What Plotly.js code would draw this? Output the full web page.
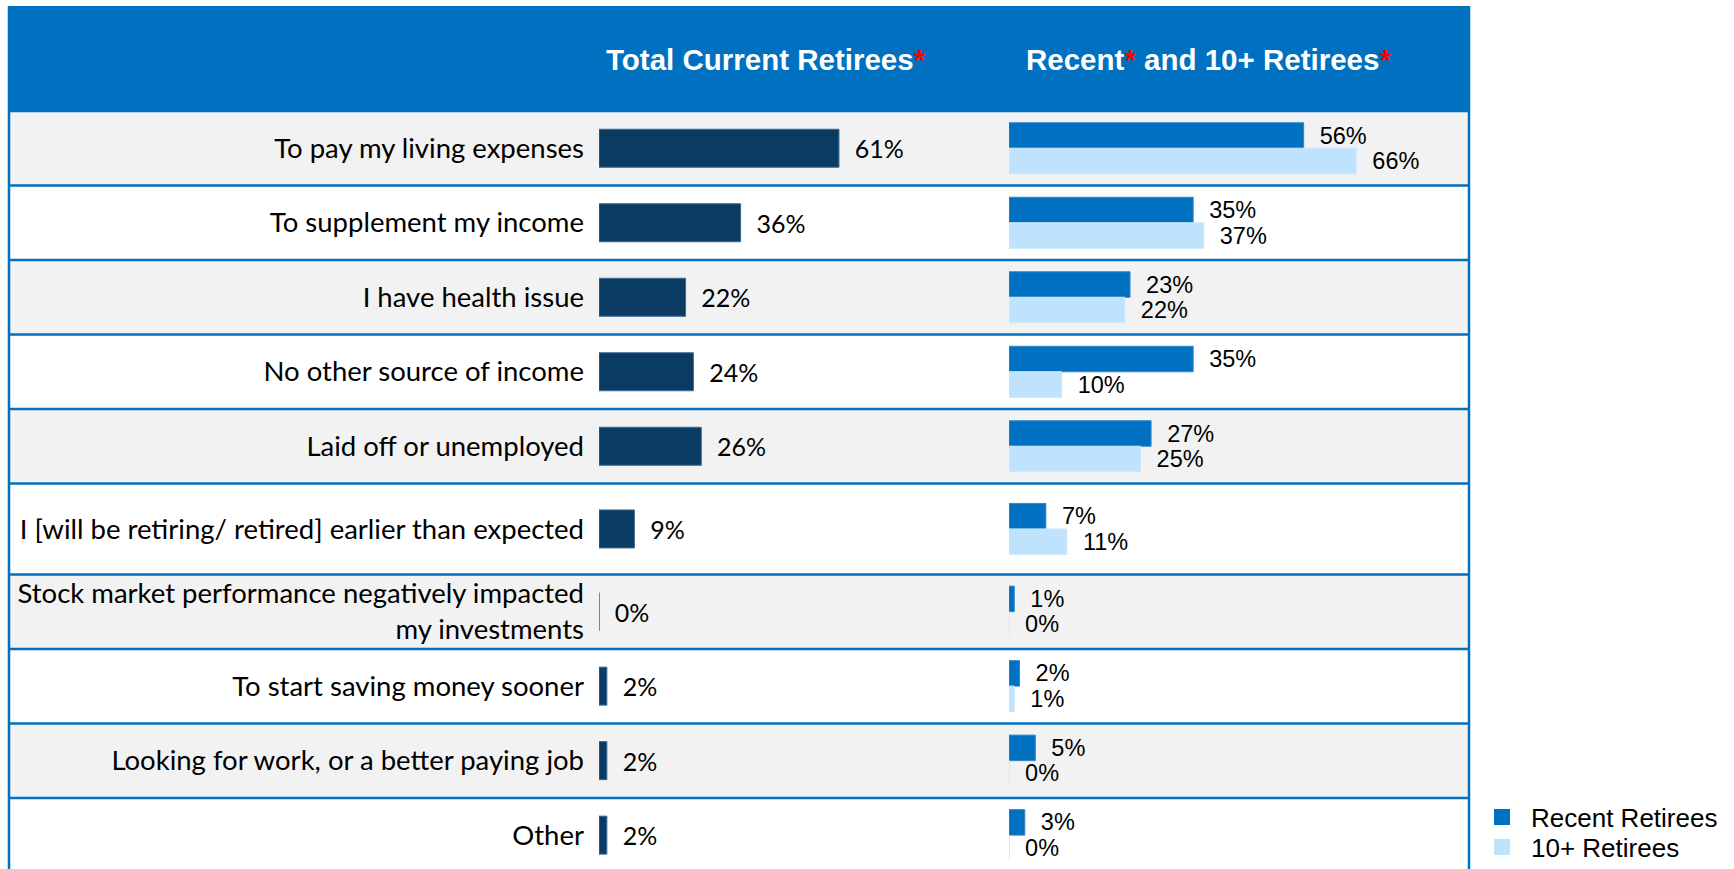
<!DOCTYPE html>
<html>
<head>
<meta charset="utf-8">
<script src="https://cdn.plot.ly/plotly-3.0.1.min.js"></script>
<style>
  html, body { margin: 0; padding: 0; background: #ffffff; overflow: hidden; }
  #chart { width: 1734px; height: 869px; }
</style>
</head>
<body>
<div id="chart"></div>
<script>
// ---------------- DATA ----------------
const categories = [
  "To pay my living expenses",
  "To supplement my income",
  "I have health issue",
  "No other source of income",
  "Laid off or unemployed",
  "I [will be retiring/ retired] earlier than expected",
  "Stock market performance negatively impacted<br>my investments",
  "To start saving money sooner",
  "Looking for work, or a better paying job",
  "Other"
];
const totalCurrentRetirees = [61, 36, 22, 24, 26, 9, 0, 2, 2, 2];
const recentRetirees       = [56, 35, 23, 35, 27, 7, 1, 2, 5, 3];
const tenPlusRetirees      = [66, 37, 22, 10, 25, 11, 0, 1, 0, 0];
const seriesNames = ["Recent Retirees", "10+ Retirees"];
const headerLeft = "Total Current Retirees";
const headerRightA = "Recent";
const headerRightB = " and 10+ Retirees";

// ---------------- LAYOUT / STYLE ----------------
const W = 1734, H = 869;
const px2x = p => p / W;
const px2y = p => 1 - p / H;
const TABLE_L = 9, TABLE_R = 1469, HEAD_T = 6, HEAD_B = 111;
const ROW_PX = 74.5;                       // pixel height of one standard row
const rowWeights = [1, 1, 1, 1, 1, 1.22, 1, 1, 1, 1];
const edges = [0];
rowWeights.forEach((w, i) => edges.push(edges[i] + w));
const centers = rowWeights.map((w, i) => edges[i] + w / 2);
const yMax = (H - HEAD_B) / ROW_PX;

const LEFT_X0 = 599, LEFT_X1 = 980, LEFT_SCALE = 3.934;   // px per %
const RIGHT_X0 = 1009, RIGHT_X1 = 1468, RIGHT_SCALE = 5.262;

const BLUE = "#0070C0", NAVY = "#0A3B63", LIGHT = "#BFE3FC", GRAY = "#F2F2F2";
const NB = "\u00a0";
const LATO = "Lato, 'Noto Sans', sans-serif";
const ARIAL = "'Liberation Sans', Arial, sans-serif";

const leftBarW = 38 / ROW_PX;
const rightBarW = 25.5 / ROW_PX;

const traces = [
  {
    type: "bar", orientation: "h", name: "Total Current Retirees",
    x: totalCurrentRetirees, y: centers, xaxis: "x", yaxis: "y",
    width: leftBarW,
    marker: { color: NAVY, line: { color: "#3F6A92", width: 1 } },
    text: totalCurrentRetirees.map(v => NB + NB + v + "%"),
    texttemplate: "%{text}",
    textposition: "outside", constraintext: "none", cliponaxis: false,
    textfont: { family: LATO, size: 25, color: "#000000" },
    showlegend: false, hoverinfo: "skip"
  },
  {
    type: "bar", orientation: "h", name: seriesNames[0],
    x: recentRetirees, y: centers, xaxis: "x2", yaxis: "y",
    width: rightBarW, offset: -rightBarW,
    marker: { color: BLUE, line: { color: "#2F86CA", width: 1 } },
    text: recentRetirees.map(v => NB + NB + v + "%"),
    texttemplate: "%{text}",
    textposition: "outside", constraintext: "none", cliponaxis: false,
    textfont: { family: ARIAL, size: 23.5, color: "#000000" },
    showlegend: false, hoverinfo: "skip"
  },
  {
    type: "bar", orientation: "h", name: seriesNames[1],
    x: tenPlusRetirees, y: centers, xaxis: "x2", yaxis: "y",
    width: rightBarW, offset: 0,
    marker: { color: LIGHT, line: { color: "#CBE8FC", width: 1 } },
    text: tenPlusRetirees.map(v => NB + NB + v + "%"),
    texttemplate: "%{text}",
    textposition: "outside", constraintext: "none", cliponaxis: false,
    textfont: { family: ARIAL, size: 23.5, color: "#000000" },
    showlegend: false, hoverinfo: "skip"
  },
  // legend entries
  {
    type: "scatter", mode: "markers", name: seriesNames[0], legend: "legend",
    x: [null], y: [null], xaxis: "x2", yaxis: "y",
    marker: { symbol: "square", size: 20, color: BLUE },
    hoverinfo: "skip"
  },
  {
    type: "scatter", mode: "markers", name: seriesNames[1], legend: "legend2",
    x: [null], y: [null], xaxis: "x2", yaxis: "y",
    marker: { symbol: "square", size: 20, color: LIGHT },
    hoverinfo: "skip"
  }
];

const shapes = [];
// header band
shapes.push({
  type: "rect", xref: "paper", yref: "paper", layer: "below",
  x0: px2x(TABLE_L), x1: px2x(TABLE_R), y0: px2y(HEAD_B), y1: px2y(HEAD_T),
  fillcolor: BLUE, line: { width: 0 }
});
// row bands
rowWeights.forEach((w, i) => {
  shapes.push({
    type: "rect", xref: "paper", yref: "y", layer: "below",
    x0: px2x(TABLE_L), x1: px2x(TABLE_R), y0: edges[i], y1: edges[i + 1],
    fillcolor: i % 2 === 0 ? GRAY : "#FFFFFF", line: { width: 0 }
  });
});
// row separators
edges.forEach(e => {
  shapes.push({
    type: "line", xref: "paper", yref: "y", layer: "above",
    x0: px2x(TABLE_L), x1: px2x(TABLE_R), y0: e, y1: e,
    line: { color: BLUE, width: 2.5 }
  });
});
// side borders
[TABLE_L, TABLE_R].forEach(p => {
  shapes.push({
    type: "line", xref: "paper", yref: "paper", layer: "above",
    x0: px2x(p), x1: px2x(p), y0: 0, y1: px2y(HEAD_T),
    line: { color: BLUE, width: 2.5 }
  });
});

const headFont = { family: ARIAL, size: 29.5, color: "#FFFFFF" };
const star = "<span style='color:#FF0000'>*</span>";
const annotations = [
  {
    xref: "paper", yref: "paper", x: px2x(766), y: px2y(60),
    xanchor: "center", yanchor: "middle", showarrow: false,
    text: "<b>" + headerLeft + star + "</b>", font: headFont
  },
  {
    xref: "paper", yref: "paper", x: px2x(1208), y: px2y(60),
    xanchor: "center", yanchor: "middle", showarrow: false,
    text: "<b>" + headerRightA + star + headerRightB + star + "</b>", font: headFont
  }
];

const legendBase = {
  xanchor: "left", yanchor: "middle",
  bgcolor: "rgba(0,0,0,0)", borderwidth: 0,
  font: { family: ARIAL, size: 26, color: "#000000" },
  itemwidth: 48
};

const layout = {
  width: W, height: H,
  margin: { l: 0, r: 0, t: 0, b: 0, pad: 0, autoexpand: false },
  paper_bgcolor: "#FFFFFF", plot_bgcolor: "rgba(0,0,0,0)",
  barmode: "overlay",
  showlegend: true,
  hovermode: false,
  xaxis: {
    domain: [px2x(LEFT_X0), px2x(LEFT_X1)],
    range: [0, (LEFT_X1 - LEFT_X0) / LEFT_SCALE],
    visible: false, fixedrange: true
  },
  xaxis2: {
    domain: [px2x(RIGHT_X0), px2x(RIGHT_X1)],
    range: [0, (RIGHT_X1 - RIGHT_X0) / RIGHT_SCALE],
    visible: false, fixedrange: true, anchor: "y"
  },
  yaxis: {
    domain: [0, px2y(HEAD_B)],
    range: [yMax, 0],
    anchor: "x",
    tickmode: "array", tickvals: centers, ticktext: categories,
    showgrid: false, zeroline: false, showline: false, ticks: "",
    ticklabelstandoff: 14,
    tickfont: { family: LATO, size: 27.5, color: "#000000" },
    fixedrange: true
  },
  legend: Object.assign({}, legendBase, { x: px2x(1473), y: px2y(817) }),
  legend2: Object.assign({}, legendBase, { x: px2x(1473), y: px2y(847) }),
  shapes: shapes,
  annotations: annotations
};

Plotly.newPlot("chart", traces, layout, { displayModeBar: false, staticPlot: true });
</script>
</body>
</html>
